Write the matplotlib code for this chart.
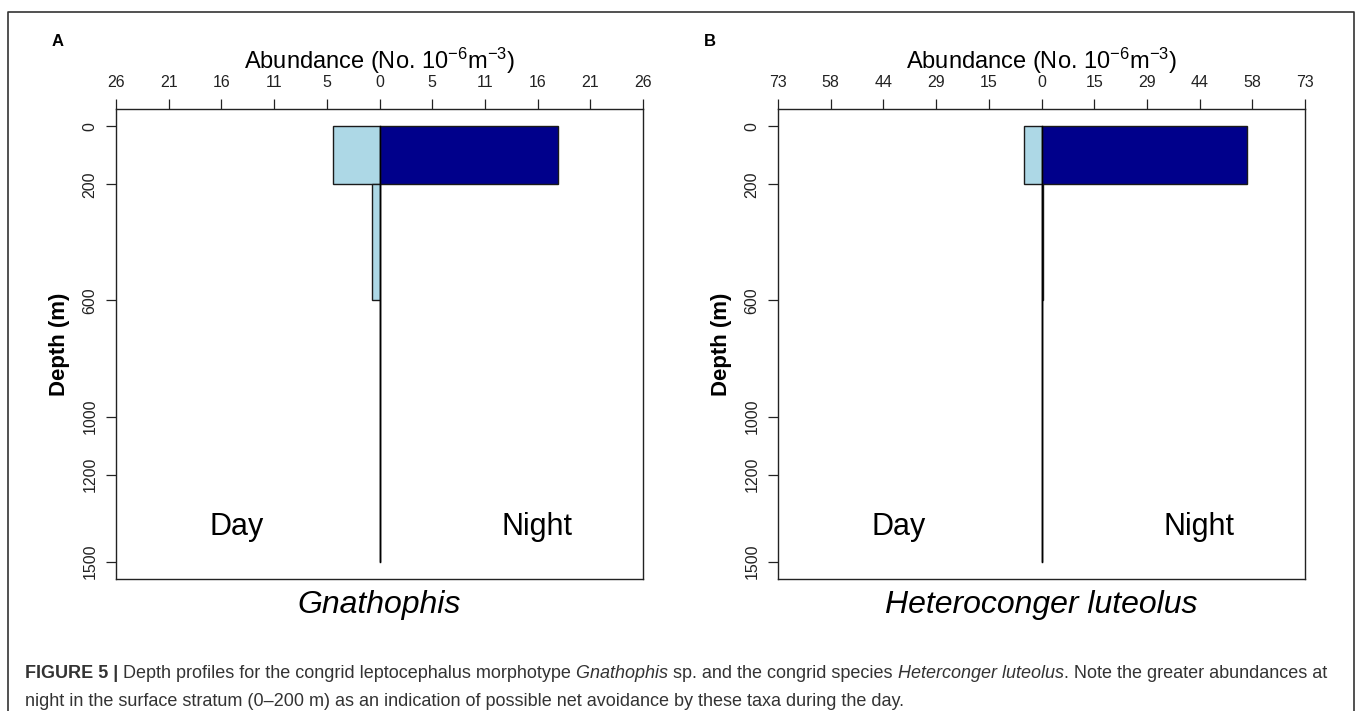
import numpy as np
import matplotlib
matplotlib.use("Agg")
import matplotlib.pyplot as plt
from matplotlib.lines import Line2D

# canvas in pixels (dpi 100)
W, H = 1357, 711

# depth strata (m)
depth_edges = [0, 200, 600, 1000, 1200, 1500]
depth_ticks = [0, 200, 600, 1000, 1200, 1500]

# panel A - Gnathophis
gnath_day = [4.7, 0.8, 0, 0, 0]
gnath_night = [17.8, 0, 0, 0, 0]
gnath_xmax = 26.35
gnath_ticklabels = ["26", "21", "16", "11", "5", "0", "5", "11", "16", "21", "26"]

# panel B - Heteroconger luteolus
hetero_day = [4.8, 0, 0, 0, 0]
hetero_night = [56.9, 0.3, 0, 0, 0]
hetero_xmax = 73.0
hetero_ticklabels = ["73", "58", "44", "29", "15", "0", "15", "29", "44", "58", "73"]

DAY_COLOR = "#ADD8E6"
NIGHT_COLOR = "#00008B"
CAPTION_COLOR = "#333333"

plt.rcParams["font.family"] = ["Liberation Sans", "DejaVu Sans"]
plt.rcParams["mathtext.fontset"] = "custom"
plt.rcParams["mathtext.rm"] = "Liberation Sans"
plt.rcParams["mathtext.it"] = "Liberation Sans:italic"
plt.rcParams["mathtext.bf"] = "Liberation Sans:bold"


def fx(x):
	return x / W


def fy(y):
	return 1 - y / H


def draw_panel(ax, day, night, xmax, ticklabels, species):
	tops = depth_edges[:-1]
	heights = np.diff(depth_edges)
	ax.barh(tops, [-v for v in day], height=heights, align="edge",
			color=DAY_COLOR, edgecolor="#1a1a1a", linewidth=1.0)
	ax.barh(tops, night, height=heights, align="edge",
			color=NIGHT_COLOR, edgecolor="#1a1a1a", linewidth=1.0)
	ax.plot([0, 0], [depth_edges[0], depth_edges[-1]], color="black", lw=1.0)

	ax.set_xlim(-xmax, xmax)
	ax.set_ylim(1560, -60)
	ax.xaxis.tick_top()
	ax.set_xticks(np.linspace(-xmax, xmax, 11))
	ax.set_xticklabels(ticklabels)
	ax.set_yticks(depth_ticks)
	ax.set_yticklabels([str(d) for d in depth_ticks], rotation=90, va="center")
	ax.tick_params(axis="both", length=7.5, width=0.9, labelsize=11.5, pad=6, colors="#222222")
	for sp in ax.spines.values():
		sp.set_linewidth(1.0)
		sp.set_color("#222222")

	ax.set_ylabel("Depth (m)", fontsize=16, fontweight="bold")
	ax.yaxis.set_label_coords(-0.088, 0.5)

	ax.text(0.2296, 0.11, "Day", transform=ax.transAxes, ha="center", va="center", fontsize=22)
	ax.text(0.799, 0.11, "Night", transform=ax.transAxes, ha="center", va="center", fontsize=22)
	ax.text(0.5, -0.055, species, transform=ax.transAxes, ha="center", va="center",
			fontsize=23, style="italic")


fig = plt.figure(figsize=(W / 100, H / 100), dpi=100)

ax_a = fig.add_axes([fx(116), fy(579), 527 / W, 470 / H])
ax_b = fig.add_axes([fx(778), fy(579), 527 / W, 470 / H])

draw_panel(ax_a, gnath_day, gnath_night, gnath_xmax, gnath_ticklabels, "Gnathophis")
draw_panel(ax_b, hetero_day, hetero_night, hetero_xmax, hetero_ticklabels, "Heteroconger luteolus")

title = r"Abundance (No. 10$^{-6}$m$^{-3}$)"
fig.text(fx(379.5), fy(61), title, ha="center", va="center", fontsize=17)
fig.text(fx(1041.5), fy(61), title, ha="center", va="center", fontsize=17)
fig.text(fx(58), fy(42), "A", ha="center", va="center", fontsize=12, fontweight="bold")
fig.text(fx(710), fy(42), "B", ha="center", va="center", fontsize=12, fontweight="bold")

# outer frame, bottom edge runs off the image
fig.add_artist(Line2D([fx(8), fx(8), fx(1354), fx(1354)], [-0.02, fy(11.5), fy(11.5), -0.02],
					  color="#333333", lw=1.2, transform=fig.transFigure))

# caption, pieces with mixed styles placed one after another
renderer = fig.canvas.get_renderer()


def rich_line(x0, y, runs, size):
	x = x0
	for txt, weight, style in runs:
		t = fig.text(fx(x), fy(y), txt, ha="left", va="baseline", fontsize=size,
					 fontweight=weight, style=style, color=CAPTION_COLOR)
		x += t.get_window_extent(renderer).width


line1 = [
	("FIGURE 5 |", "bold", "normal"),
	(" Depth profiles for the congrid leptocephalus morphotype", "normal", "normal"),
	(" Gnathophis", "normal", "italic"),
	(" sp. and the congrid species", "normal", "normal"),
	(" Heterconger luteolus", "normal", "italic"),
	(". Note the greater abundances at", "normal", "normal"),
]
line2 = [
	("night in the surface stratum (0\u2013200 m) as an indication of possible net avoidance by these taxa during the day.",
	 "normal", "normal"),
]
rich_line(25, 678, line1, 13.0)
rich_line(25, 706, line2, 13.0)

fig.savefig("out.png", dpi=100)
